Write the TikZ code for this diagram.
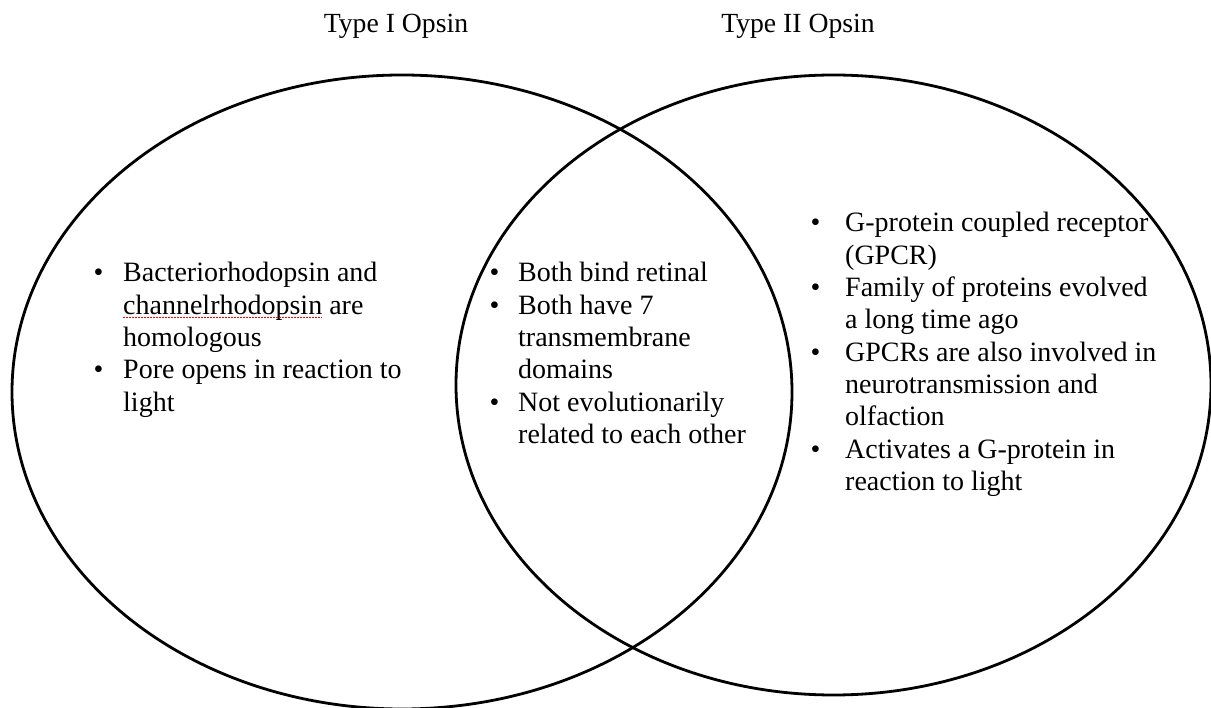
\documentclass[tikz,border=0pt]{standalone}
\usepackage{fontspec}
\setmainfont{Liberation Serif}
\begin{document}
\begin{tikzpicture}[x=1pt,y=-1pt,
  ring/.style={draw=black,line width=2.8pt},
  title/.style={anchor=base,inner sep=0pt,font=\fontsize{27.7}{32}\selectfont},
  blist/.style={anchor=base west,inner sep=0pt,align=left,font=\fontsize{28}{32.3}\selectfont},
  spell/.style={draw=red,line width=1.5pt,dash pattern=on 1.5pt off 1.5pt}]
\useasboundingbox (0,0) rectangle (1211,708);
\draw[ring] (402,392) ellipse [x radius=390, y radius=317];
\draw[ring] (833.5,385) ellipse [x radius=377.5, y radius=310];
\node[title] (t1) at (396,33) {Type I Opsin};
\node[title] (t2) at (798,33) {Type II Opsin};
\node[blist] (left) at (93.5,282) {\begin{tabular}[t]{@{}p{29.5pt}@{}l@{}}
\textbullet & Bacteriorhodopsin and\\
 & channelrhodopsin are\\
 & homologous\\
\textbullet & Pore opens in reaction to\\
 & light
\end{tabular}};
\node[blist] (mid) at (489.5,282) {\begin{tabular}[t]{@{}p{28.5pt}@{}l@{}}
\textbullet & Both bind retinal\\
\textbullet & Both have 7\\
 & transmembrane\\
 & domains\\
\textbullet & Not evolutionarily\\
 & related to each other
\end{tabular}};
\node[blist] (right) at (810.5,232) {\begin{tabular}[t]{@{}p{34.5pt}@{}l@{}}
\textbullet & G-protein coupled receptor\\
 & (GPCR)\\
\textbullet & Family of proteins evolved\\
 & a long time ago\\
\textbullet & GPCRs are also involved in\\
 & neurotransmission and\\
 & olfaction\\
\textbullet & Activates a G-protein in\\
 & reaction to light
\end{tabular}};
\draw[spell] (123,317.5) -- (322,317.5);
\end{tikzpicture}
\end{document}
